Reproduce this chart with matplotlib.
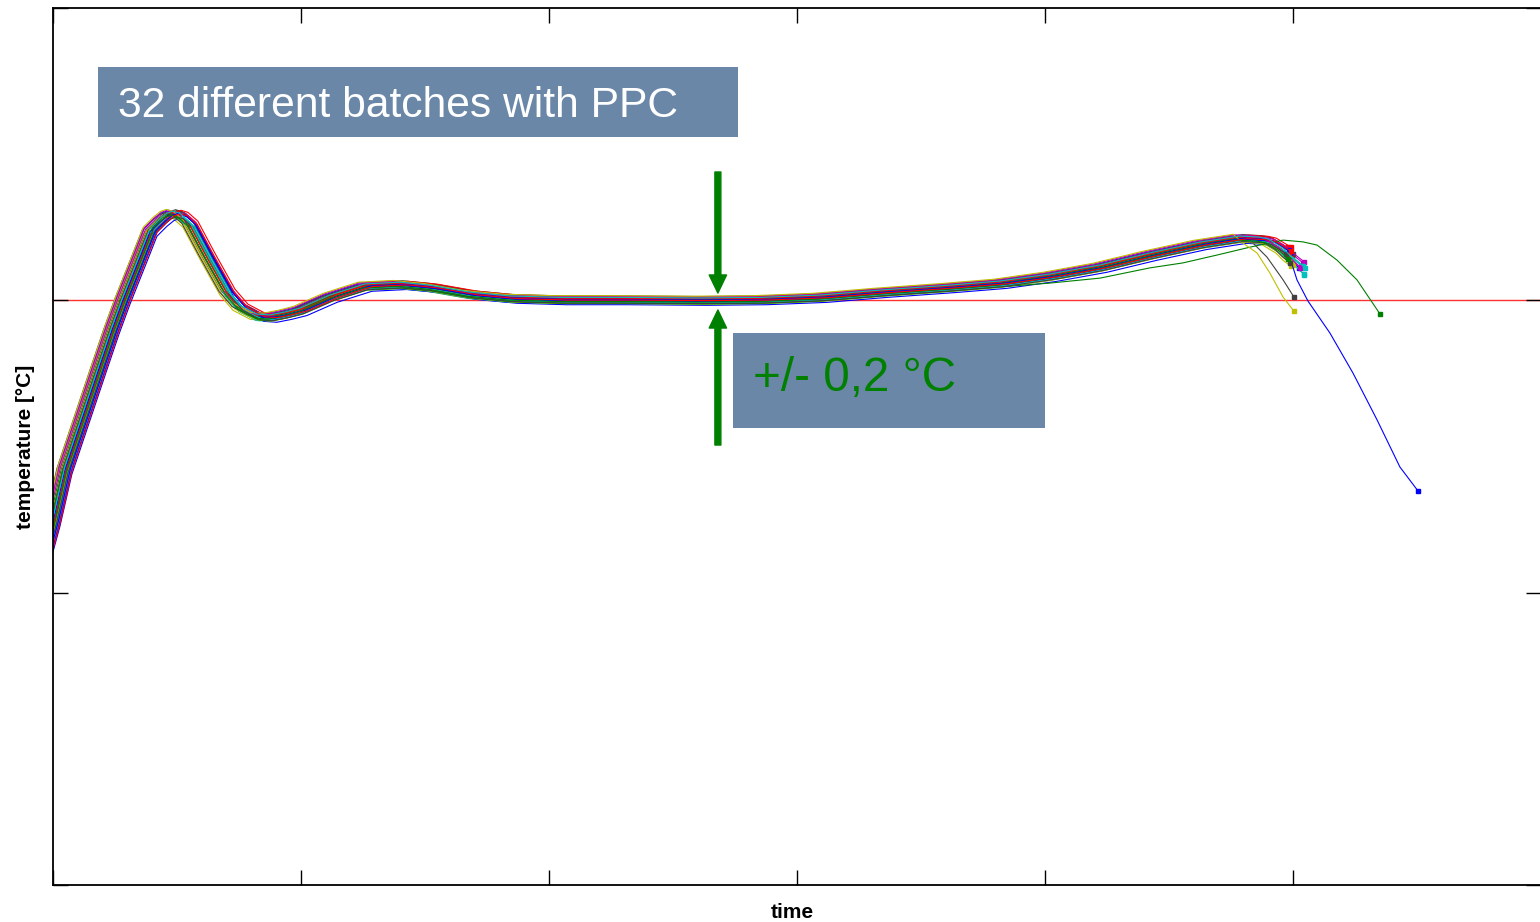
import matplotlib.pyplot as plt
import numpy as np

plt.rcParams['font.family'] = ['Liberation Sans', 'DejaVu Sans']

# common batch profile: time [min] / temperature [°C]
profile_time = [-1.0, 0.0, 0.48, 1.09, 1.90, 2.38, 2.82, 3.51, 3.91, 4.31, 4.60, 4.84,
                5.12, 5.52, 6.21, 7.02, 7.54, 8.23, 8.75, 9.35, 9.96, 11.17, 12.58,
                13.99, 15.20, 16.81, 18.43, 20.44, 22.86, 26.09, 28.51, 30.93, 33.35,
                36.17, 38.19, 40.20, 42.22, 44.23, 46.25, 47.86, 48.67, 49.00, 49.27,
                49.60, 49.88, 50.20, 50.50, 50.80, 51.10]
profile_temp = [35.930, 36.242, 36.420, 36.574, 36.779, 36.899, 37.001, 37.148, 37.234,
                37.268, 37.288, 37.295, 37.288, 37.258, 37.148, 37.025, 36.974, 36.943,
                36.940, 36.950, 36.963, 37.008, 37.046, 37.052, 37.042, 37.018, 37.005,
                37.000, 37.000, 36.998, 37.000, 37.008, 37.025, 37.042, 37.056, 37.080,
                37.111, 37.152, 37.189, 37.210, 37.206, 37.200, 37.186, 37.169, 37.145,
                37.124, 37.100, 37.076, 37.052]

# per batch deviation from the common profile
batch_shift = [-0.25, 0.07, 0.18, -0.04, 0.21, -0.28, 0.10, 0.28, -0.14, 0.04, -0.07,
               0.25, -0.21, 0.14, 0.00, -0.10, 0.32, 0.20, -0.18, 0.08, -0.32, 0.27,
               0.06, -0.06, 0.15, -0.22, -0.27, 0.13, 0.22, -0.08, 0.30, -0.01]
batch_offset = [0.010, -0.005, 0.012, -0.012, 0.004, -0.008, 0.015, -0.015, 0.006,
                0.000, -0.010, 0.008, -0.003, 0.011, 0.000, 0.002, 0.013, -0.007,
                0.009, -0.011, 0.005, -0.002, -0.010, 0.007, -0.006, 0.014, 0.016,
                -0.009, 0.003, -0.004, 0.001, 0.010]
batch_end = [50.5, 50.0, 50.0, 50.5, 50.5, 50.0, 50.0, 50.0, 50.0, 50.0, 50.5, 50.5,
             50.0, 50.0, 50.0, 50.0, 50.0, 50.5, 50.5, 50.0, 50.0, 50.0, 50.0, 50.0,
             50.5, 50.5, 50.0, 50.0, 50.0, 50.0, 50.0, 50.5]

# batches that run off the common profile at the end
blue_tail_time = [50.16, 50.60, 51.49, 52.42, 53.39, 54.31, 55.04]
blue_tail_temp = [37.070, 36.998, 36.888, 36.751, 36.591, 36.430, 36.348]
green_tail_time = [38.19, 40.20, 42.22, 44.23, 45.56, 46.94, 48.27, 49.60, 50.40, 50.97,
                   51.77, 52.58, 53.51]
green_tail_temp = [37.046, 37.059, 37.076, 37.111, 37.128, 37.155, 37.182, 37.206,
                   37.200, 37.189, 37.138, 37.070, 36.953]
yellow_tail_time = [47.98, 48.55, 49.07, 49.60, 50.04]
yellow_tail_temp = [37.196, 37.162, 37.093, 37.011, 36.963]
gray_tail_time = [48.27, 48.95, 49.60, 50.04]
gray_tail_temp = [37.206, 37.148, 37.070, 37.011]

setpoint = 37.0
line_colors = ['#0000ff', '#008000', '#ff0000', '#00bfbf', '#bf00bf', '#bfbf00', '#404040']

tails = {14: (blue_tail_time, blue_tail_temp),
         22: (green_tail_time, green_tail_temp),
         26: (yellow_tail_time, yellow_tail_temp),
         13: (gray_tail_time, gray_tail_temp)}

fig = plt.figure(figsize=(15.4, 9.22), dpi=100)
ax = fig.add_axes([53 / 1540, 1 - 885 / 922, 1488 / 1540, 877 / 922])

for i in range(len(batch_shift)):
    t = np.array(profile_time) + batch_shift[i]
    T = np.array(profile_temp) + batch_offset[i]
    if i in tails:
        tt, TT = tails[i]
        keep = t < tt[0]
        t = np.concatenate([t[keep], tt])
        T = np.concatenate([T[keep], TT])
    else:
        keep = t <= batch_end[i]
        t, T = t[keep], T[keep]
    ax.plot(t, T, color=line_colors[i % 7], lw=0.8, marker='s', markersize=2.2,
            markevery=[len(t) - 1])

ax.axhline(setpoint, color='#ff3030', lw=1.0, zorder=1)

ax.set_xlim(0, 60)
ax.set_ylim(35, 38)
ax.set_xticks(np.arange(0, 61, 10))
ax.set_yticks([35, 36, 37, 38])
ax.tick_params(direction='in', length=11, width=1, top=True, right=True,
               labelbottom=False, labelleft=False)
for s in ax.spines.values():
    s.set_linewidth(1.3)

ax.set_xlabel('time', fontweight='bold', fontsize=15)
ax.set_ylabel('temperature [°C]', fontweight='bold', fontsize=15)
ax.xaxis.set_label_coords(0.4966, -0.021)
ax.yaxis.set_label_coords(-0.012, 0.5)

# title box
box_color = '#6b87a8'
ax.add_patch(plt.Rectangle((0.0302, 0.8529), 0.4301, 0.0798, transform=ax.transAxes,
                           facecolor=box_color, edgecolor='none', zorder=3))
ax.text(0.0437, 0.8885, '32 different batches with PPC', transform=ax.transAxes,
        color='white', fontsize=30.7, va='center', ha='left', zorder=4)

# tolerance box
ax.add_patch(plt.Rectangle((0.4570, 0.5211), 0.2097, 0.1083, transform=ax.transAxes,
                           facecolor=box_color, edgecolor='none', zorder=3))
ax.text(0.4704, 0.5780, '+/- 0,2 °C', transform=ax.transAxes,
        color='#008000', fontsize=34.3, va='center', ha='left', zorder=4)

# tolerance arrows
arrow = dict(facecolor='#008000', edgecolor='#008000', width=4.3, headwidth=12.5,
             headlength=13, shrink=0)
ax.annotate('', xy=(26.81, 37.025), xytext=(26.81, 37.439), arrowprops=arrow)
ax.annotate('', xy=(26.81, 36.967), xytext=(26.81, 36.505), arrowprops=arrow)

plt.savefig('out.png', dpi=100)
